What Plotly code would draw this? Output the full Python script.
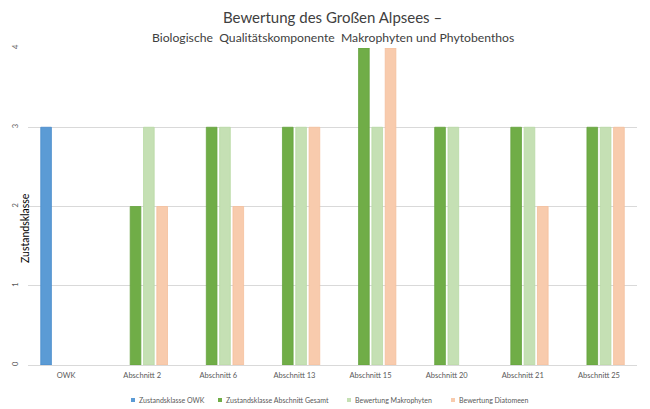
import plotly.graph_objects as go

categories = ["OWK", "Abschnitt 2", "Abschnitt 6", "Abschnitt 13", "Abschnitt 15",
              "Abschnitt 20", "Abschnitt 21", "Abschnitt 25"]
zustand_owk = [3, None, None, None, None, None, None, None]
zustand_abschnitt = [None, 2, 3, 3, 4, 3, 3, 3]
bewertung_makrophyten = [None, 3, 3, 3, 3, 3, 3, 3]
bewertung_diatomeen = [None, 2, 2, 3, 4, None, 2, 3]

series = [
    ("Zustandsklasse OWK", zustand_owk, "#5B9BD5", "#4a8ccb"),
    ("Zustandsklasse Abschnitt Gesamt", zustand_abschnitt, "#70AD47", "#66a33f"),
    ("Bewertung Makrophyten", bewertung_makrophyten, "#C5E0B4", "#b9d9a5"),
    ("Bewertung Diatomeen", bewertung_diatomeen, "#F8CBAD", "#f5bf9c"),
]
# legend entry positions (container pixels): marker centre x
legend_x = [133, 220, 349, 453]

font = "Lato"
W, H = 650, 409
fig = go.Figure()
for name, vals, col, lc in series:
    fig.add_trace(go.Bar(x=categories, y=vals, name=name, showlegend=False,
                         marker=dict(color=col, line=dict(color=lc, width=0.8))))

PT, PB, PL, PR = 48, 365, 28, 637
ph = PB - PT
pw = PR - PL

def px_x(x):
    return (x - PL) / pw

def px_y(y):
    return (PB - y) / ph

annotations = [
    dict(text="Bewertung des Großen Alpsees –", x=0.5, y=px_y(17),
         xref="paper", yref="paper", showarrow=False, yanchor="middle",
         xanchor="center", font=dict(size=15, color="#404040", family=font)),
    dict(text="Biologische  Qualitätskomponente  Makrophyten und Phytobenthos",
         xref="paper", yref="paper", x=0.5, y=px_y(37), showarrow=False,
         yanchor="middle", xanchor="center",
         font=dict(size=12.2, color="#404040", family=font)),
    dict(text="Zustandsklasse", textangle=-90, xref="paper", yref="paper",
         x=px_x(25), y=px_y(228), showarrow=False,
         xanchor="center", yanchor="middle",
         font=dict(size=10.5, color="#000000", family=font)),
]
shapes = []
for (name, vals, col, lc), lx in zip(series, legend_x):
    shapes.append(dict(type="rect", xref="paper", yref="paper",
                       x0=px_x(lx - 2), x1=px_x(lx + 2), y0=px_y(402), y1=px_y(398),
                       fillcolor=col, line=dict(width=0)))
    annotations.append(dict(text=name, xref="paper", yref="paper",
                            x=px_x(lx + 3.5), y=px_y(400), xanchor="left",
                            yanchor="middle", showarrow=False,
                            font=dict(size=7, color="#595959", family=font)))

fig.update_layout(
    width=W, height=H,
    margin=dict(l=PL, r=W - PR, t=PT, b=H - PB, autoexpand=False),
    paper_bgcolor="white", plot_bgcolor="white",
    barmode="group", bargap=0.3, bargroupgap=0.2,
    font=dict(family=font, color="#595959", size=8),
    showlegend=False,
    xaxis=dict(showgrid=False, showline=False, ticks="", tickfont=dict(size=7.5),
               ticklabelstandoff=4),
    yaxis=dict(range=[0, 4], dtick=1, showgrid=True, gridcolor="#D9D9D9", gridwidth=1,
               zeroline=True, zerolinecolor="#D9D9D9", zerolinewidth=1,
               showline=False, ticks="", tickangle=-90, tickfont=dict(size=7.5),
               ticklabelstandoff=8),
    annotations=annotations,
    shapes=shapes,
)

fig.write_html("out.html", config={"displayModeBar": False},
               post_script="document.body.style.margin='0';document.body.style.padding='0';")
